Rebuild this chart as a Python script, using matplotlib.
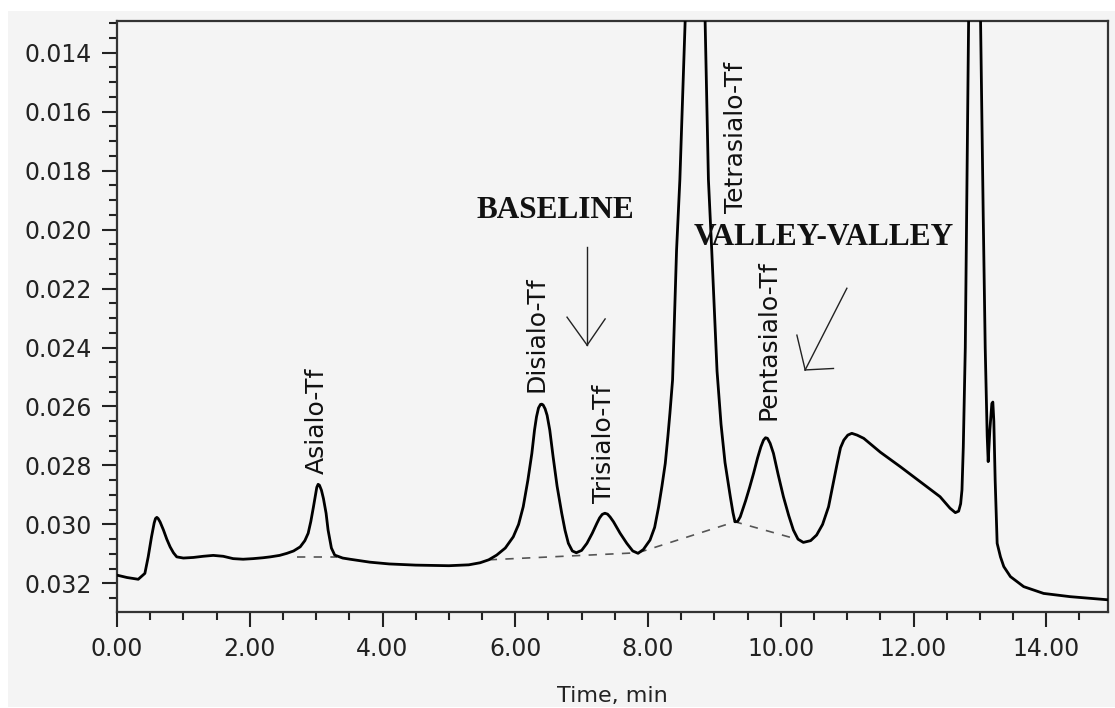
import matplotlib
matplotlib.use("Agg")
import matplotlib.pyplot as plt
from matplotlib.patches import Rectangle
from matplotlib.ticker import MultipleLocator, FormatStrFormatter

# ---- data ----
time_min = [0.00, 0.15, 0.32, 0.42, 0.47, 0.52, 0.56, 0.58, 0.60, 0.62, 0.65, 0.70, 0.75, 0.80,
            0.85, 0.90, 1.00, 1.15, 1.30, 1.45, 1.60, 1.75, 1.90, 2.05, 2.20, 2.31, 2.45, 2.56,
            2.66, 2.76, 2.83, 2.88, 2.92, 2.96, 2.99, 3.01, 3.03, 3.05, 3.08, 3.11, 3.15, 3.18,
            3.23, 3.28, 3.40, 3.51, 3.81, 4.10, 4.50, 5.00, 5.30, 5.47, 5.60, 5.72, 5.85, 5.97,
            6.05, 6.12, 6.19, 6.25, 6.29, 6.32, 6.35, 6.38, 6.40, 6.42, 6.45, 6.48, 6.52, 6.57,
            6.63, 6.70, 6.75, 6.80, 6.86, 6.92, 7.00, 7.08, 7.16, 7.23, 7.27, 7.31, 7.35, 7.39,
            7.43, 7.48, 7.58, 7.68, 7.77, 7.85, 7.93, 8.03, 8.10, 8.16, 8.21, 8.26, 8.30, 8.33,
            8.37, 8.43, 8.48, 8.56, 8.62, 8.71, 8.80, 8.86, 8.91, 8.96, 9.04, 9.10, 9.16, 9.24,
            9.28, 9.31, 9.35, 9.39, 9.47, 9.53, 9.59, 9.65, 9.70, 9.74, 9.77, 9.80, 9.84, 9.89,
            9.96, 10.04, 10.12, 10.19, 10.26, 10.34, 10.45, 10.54, 10.63, 10.72, 10.79, 10.85,
            10.90, 10.95, 11.01, 11.07, 11.15, 11.25, 11.50, 11.80, 12.10, 12.40, 12.55, 12.63,
            12.68, 12.71, 12.73, 12.75, 12.78, 12.83, 12.92, 13.01, 13.05, 13.08, 13.11, 13.125,
            13.15, 13.18, 13.195, 13.21, 13.23, 13.26, 13.31, 13.36, 13.46, 13.66, 13.96, 14.36,
            14.95]
absorbance = [0.03172, 0.03180, 0.03186, 0.03166, 0.03110, 0.03042, 0.02995, 0.02980, 0.02976,
              0.02980, 0.02992, 0.03019, 0.03050, 0.03076, 0.03096, 0.03110, 0.03114, 0.03112,
              0.03108, 0.03105, 0.03108, 0.03116, 0.03118, 0.03116, 0.03113, 0.03110, 0.03105,
              0.03098, 0.03090, 0.03076, 0.03055, 0.03030, 0.02990, 0.02940, 0.02900, 0.02874,
              0.02864, 0.02867, 0.02884, 0.02912, 0.02962, 0.03019, 0.03080, 0.03104, 0.03114,
              0.03118, 0.03128, 0.03134, 0.03138, 0.03140, 0.03137, 0.03130, 0.03120, 0.03104,
              0.03080, 0.03042, 0.03000, 0.02940, 0.02850, 0.02759, 0.02680, 0.02635, 0.02605,
              0.02593, 0.02592, 0.02595, 0.02608, 0.02630, 0.02680, 0.02770, 0.02870, 0.02962,
              0.03020, 0.03064, 0.03090, 0.03096, 0.03088, 0.03064, 0.03030, 0.02996, 0.02978,
              0.02966, 0.02962, 0.02965, 0.02975, 0.02991, 0.03030, 0.03064, 0.03090, 0.03098,
              0.03085, 0.03053, 0.03010, 0.02940, 0.02870, 0.02793, 0.02700, 0.02623, 0.02510,
              0.02070, 0.01830, 0.01290, 0.01050, 0.00950, 0.01050, 0.01290, 0.01830, 0.02070,
              0.02480, 0.02660, 0.02790, 0.02906, 0.02960, 0.02991, 0.02990, 0.02974, 0.02920,
              0.02875, 0.02827, 0.02775, 0.02737, 0.02714, 0.02706, 0.02708, 0.02725, 0.02759,
              0.02830, 0.02906, 0.02970, 0.03019, 0.03050, 0.03061, 0.03055, 0.03036, 0.03000,
              0.02940, 0.02860, 0.02793, 0.02740, 0.02714, 0.02697, 0.02691, 0.02697, 0.02708,
              0.02755, 0.02804, 0.02855, 0.02906, 0.02945, 0.02960, 0.02955, 0.02930, 0.02883,
              0.02737, 0.02400, 0.01290, 0.00500, 0.01290, 0.01950, 0.02400, 0.02700, 0.02787,
              0.02680, 0.02590, 0.02585, 0.02650, 0.02850, 0.03064, 0.03110, 0.03143, 0.03177,
              0.03211, 0.03234, 0.03245, 0.03256]

# drop-line baselines (dashed)
asialo_base_t = [2.71, 3.31]
asialo_base_a = [0.03110, 0.03110]
vv_base_t = [5.60, 7.85, 9.31, 10.18]
vv_base_a = [0.03120, 0.03096, 0.02991, 0.03046]

peak_labels = ["Asialo-Tf", "Disialo-Tf", "Trisialo-Tf", "Tetrasialo-Tf", "Pentasialo-Tf"]
label_t = [3.01, 6.32, 7.33, 9.32, 9.81]
label_a = [0.02830, 0.02550, 0.02928, 0.01945, 0.02647]

x_ticks = [0, 2, 4, 6, 8, 10, 12, 14]
y_ticks = [0.014, 0.016, 0.018, 0.020, 0.022, 0.024, 0.026, 0.028, 0.030, 0.032]

# ---- figure ----
W, H = 1115, 708
fig = plt.figure(figsize=(W / 100, H / 100), dpi=100, facecolor="white")
bg = "#f4f4f4"
fig.patches.append(Rectangle((8 / W, 1 - 707 / H), (W - 8) / W, (707 - 11) / H,
                             transform=fig.transFigure, facecolor=bg, edgecolor="none", zorder=-5))

ax = fig.add_axes([117 / W, 1 - 612 / H, (1108 - 117) / W, (612 - 21) / H])
ax.set_facecolor(bg)

ax.plot(time_min, absorbance, color="black", lw=2.0, solid_joinstyle="round", zorder=3)
ax.plot(asialo_base_t, asialo_base_a, color="#555555", lw=1.2, ls=(0, (5, 5)), zorder=2)
ax.plot(vv_base_t, vv_base_a, color="#555555", lw=1.2, ls=(0, (5, 5)), zorder=2)

ax.set_xlim(0, 14.93)
ax.set_ylim(0.03297, 0.012925)

ax.set_xticks(x_ticks)
ax.set_yticks(y_ticks)
ax.xaxis.set_minor_locator(MultipleLocator(0.5))
ax.yaxis.set_minor_locator(MultipleLocator(0.0005))
ax.xaxis.set_major_formatter(FormatStrFormatter("%.2f"))
ax.yaxis.set_major_formatter(FormatStrFormatter("%.3f"))
ax.tick_params(which="major", direction="out", length=11, width=1.5, labelsize=17,
               colors="#222222", pad=7)
ax.tick_params(which="minor", direction="out", length=6, width=1.5, colors="#222222")
for s in ax.spines.values():
    s.set_linewidth(1.6)
    s.set_color("#333333")

ax.set_xlabel("Time, min", fontsize=16, labelpad=18, color="#222222")

for lab, t, a in zip(peak_labels, label_t, label_a):
    ax.text(t, a, lab, rotation=90, ha="center", va="bottom", fontsize=18, color="#111111")

ax.text(6.61, 0.01961, "BASELINE", family="Liberation Serif", weight="bold", fontsize=22.5,
        ha="center", va="baseline", color="#111111")
ax.text(10.65, 0.02052, "VALLEY-VALLEY", family="Liberation Serif", weight="bold", fontsize=22.5,
        ha="center", va="baseline", color="#111111")

# hand-drawn arrows
arrow_lines = [
    ([7.083, 7.083], [0.02060, 0.02392]),
    ([6.780, 7.083], [0.02297, 0.02392]),
    ([7.354, 7.083], [0.02303, 0.02392]),
    ([10.996, 10.368], [0.02199, 0.02476]),
    ([10.243, 10.368], [0.02358, 0.02476]),
    ([10.368, 10.794], [0.02476, 0.02471]),
]
for xs, ys in arrow_lines:
    ax.plot(xs, ys, color="#222222", lw=1.0, zorder=4)

fig.savefig("out.png", dpi=100, facecolor="white")
